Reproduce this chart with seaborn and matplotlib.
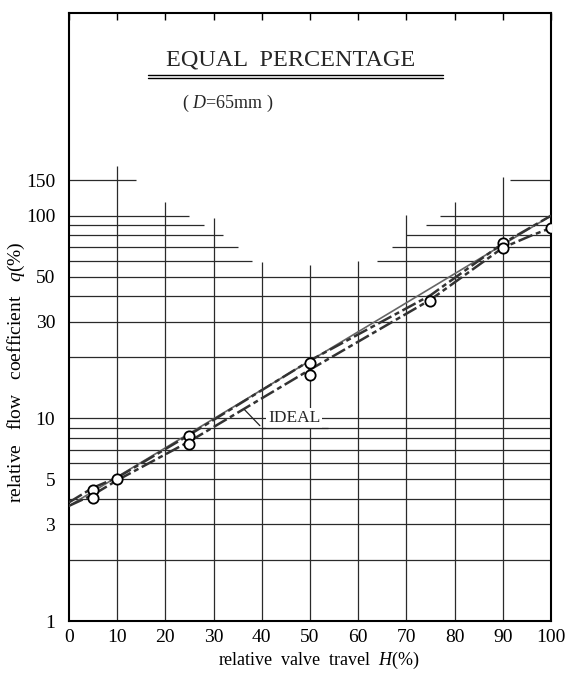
import matplotlib

matplotlib.use("Agg")
import matplotlib.pyplot as plt
import pandas as pd
import seaborn as sns
from matplotlib.ticker import FixedLocator, NullLocator

# measured points (circles)
pt_travel = [5, 5, 10, 25, 25, 50, 50, 75, 90, 90, 100]
pt_flow = [4.45, 4.06, 5.0, 8.2, 7.5, 18.7, 16.4, 37.9, 73.5, 69.0, 87.0]

# ideal equal percentage characteristic
ideal_travel = [0, 100]
ideal_flow = [3.7, 100]

# measured curves (two passes)
up_travel = [0, 5, 10, 25, 50, 75, 90, 100]
up_flow = [3.85, 4.55, 5.1, 8.3, 19.3, 40.5, 73, 100]
down_travel = [0, 5, 10, 25, 50, 75, 90, 96, 100]
down_flow = [3.7, 4.2, 4.95, 7.7, 17.4, 38.5, 69.5, 80, 87]

# axis ticks
x_ticks = [0, 10, 20, 30, 40, 50, 60, 70, 80, 90, 100]
y_ticks = [1, 3, 5, 10, 30, 50, 100, 150]
y_tick_labels = ["1", "3", "5", "10", "30", "50", "100", "150"]

# grid lines of the printed chart paper
h_grid_full = [2, 3, 4, 5, 6, 7, 8, 9, 10, 20, 30, 40, 50]
h_grid_part = [60, 70, 80, 90, 100, 150]
h_part_left_end = [38, 35, 32, 28, 25, 14]
h_part_right_start = [64, 67, 70, 74, 77, 91.5]
v_grid = [10, 20, 30, 40, 50, 60, 70, 80, 90]
v_grid_top = [175, 117, 97, 59, 57, 60, 101, 117, 156]

sns.set_theme(style="white")
plt.rcParams["font.family"] = ["Liberation Serif", "DejaVu Serif"]
plt.rcParams["mathtext.fontset"] = "custom"
plt.rcParams["mathtext.rm"] = "Liberation Serif"
plt.rcParams["mathtext.it"] = "Liberation Serif:italic"

fig = plt.figure(figsize=(5.66, 6.77), dpi=100)
ax = fig.add_axes([0.1219, 0.0827, 0.8516, 0.898])
ax.set_yscale("log")
ax.set_xlim(0, 100)
ax.set_ylim(1, 1000)

grid_kw = dict(color="#2a2a2a", linewidth=0.9, zorder=1)
ax.hlines(h_grid_full, 0, 100, **grid_kw)
ax.hlines(h_grid_part, 0, h_part_left_end, **grid_kw)
ax.hlines(h_grid_part, h_part_right_start, 100, **grid_kw)
ax.vlines(v_grid, 1, v_grid_top, **grid_kw)

ideal = pd.DataFrame({"travel": ideal_travel, "flow": ideal_flow})
up = pd.DataFrame({"travel": up_travel, "flow": up_flow})
down = pd.DataFrame({"travel": down_travel, "flow": down_flow})
pts = pd.DataFrame({"travel": pt_travel, "flow": pt_flow})

sns.lineplot(data=ideal, x="travel", y="flow", ax=ax, color="#666666",
             linewidth=1.2, zorder=3)
sns.lineplot(data=up, x="travel", y="flow", ax=ax, color="#333333",
             linewidth=1.8, zorder=3)
ax.lines[-1].set_dashes([6, 1.5, 2, 1.5])
sns.lineplot(data=down, x="travel", y="flow", ax=ax, color="#333333",
             linewidth=1.8, zorder=3)
ax.lines[-1].set_dashes([6, 1.5, 2, 1.5])
sns.scatterplot(data=pts, x="travel", y="flow", ax=ax, s=55, marker="o",
                facecolor="white", edgecolor="black", linewidth=1.3, zorder=4)

# IDEAL label with leader line
ax.text(41.3, 10.0, "IDEAL", fontsize=12.5, va="center", ha="left",
        bbox=dict(facecolor="white", edgecolor="none", pad=1.5), zorder=5)
ax.annotate("", xy=(36, 11.3), xytext=(40, 9.0),
            arrowprops=dict(arrowstyle="-", color="#222222", lw=0.9), zorder=5)
ax.hlines(9.0, 40, 53.7, color="#222222", linewidth=0.9, zorder=5)

# title block
ax.text(0.46, 0.923, "EQUAL  PERCENTAGE", transform=ax.transAxes,
        fontsize=17.5, ha="center", va="center")
ax.plot([0.164, 0.776], [0.898, 0.898], transform=ax.transAxes,
        color="black", linewidth=1.0)
ax.plot([0.164, 0.776], [0.893, 0.893], transform=ax.transAxes,
        color="black", linewidth=1.0)
ax.text(0.33, 0.852, r"( $D$=65mm )", transform=ax.transAxes,
        fontsize=13, ha="center", va="center")

# axes and ticks
ax.xaxis.set_major_locator(FixedLocator(x_ticks))
ax.set_xticklabels([str(v) for v in x_ticks])
ax.yaxis.set_major_locator(FixedLocator(y_ticks))
ax.yaxis.set_minor_locator(NullLocator())
ax.set_yticklabels(y_tick_labels)
ax.tick_params(axis="x", bottom=False, top=True, direction="in", length=5,
               width=1, labelsize=14, pad=6, colors="black")
ax.tick_params(axis="y", left=False, labelsize=14, pad=4, colors="black")

ax.set_xlabel(r"relative  valve  travel  $H$(%)", fontsize=13, color="black")
ax.set_ylabel(r"relative   flow   coefficient   $q$(%)", fontsize=14,
              color="black")
ax.xaxis.set_label_coords(0.519, -0.048)
ax.yaxis.set_label_coords(-0.087, 0.41)

for s in ax.spines.values():
    s.set_visible(True)
    s.set_color("black")
    s.set_linewidth(1.5)

fig.savefig("out.png", dpi=100)
